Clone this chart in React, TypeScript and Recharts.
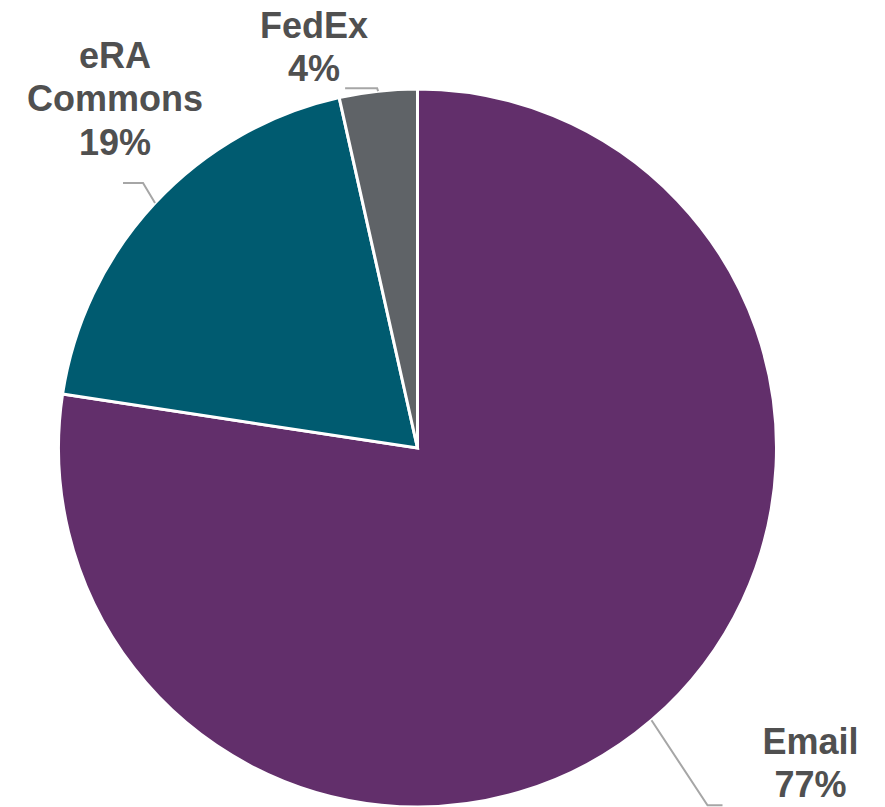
import React from "react";
import { PieChart, Pie, Cell } from "recharts";

const categories = ["Email", "eRA Commons", "FedEx"];
const values = [77.4, 19.1, 3.5];
const labelLines = [["Email"], ["eRA", "Commons"], ["FedEx"]];
const colors = ["#622F6B", "#005B70", "#5F6367"];

// label layout: elbow offset from slice edge, horizontal extension, text offset
const labelLayout = [
  { ex: 56, ey: 85, ext: 15, dx: 88, dy: -64 },
  { ex: -12, ey: -20, ext: -20, dx: -8, dy: -128 },
  { ex: -1, ey: -3, ext: -32, dx: -31, dy: -63 },
];

const data = categories.map((name, i) => ({ name, value: values[i] }));

const RAD = Math.PI / 180;

const renderLabel = (props: any) => {
  const { cx, cy, midAngle, outerRadius, index, percent } = props;
  const L = labelLayout[index];
  const cos = Math.cos(-midAngle * RAD);
  const sin = Math.sin(-midAngle * RAD);
  const x0 = cx + outerRadius * cos;
  const y0 = cy + outerRadius * sin;
  const x1 = x0 + L.ex;
  const y1 = y0 + L.ey;
  const x2 = x1 + L.ext;
  const y2 = y1;
  const tx = x2 + L.dx;
  const ty = y2 + L.dy;
  const lines = [...labelLines[index], `${Math.round(percent * 100)}%`];
  return (
    <g key={`lbl-${index}`}>
      <polyline
        points={`${x0},${y0} ${x1},${y1} ${x2},${y2}`}
        fill="none"
        stroke="#A6A6A6"
        strokeWidth={2}
      />
      {lines.map((t, k) => (
        <text
          key={k}
          x={tx}
          y={ty + k * 43.5}
          textAnchor="middle"
          dominantBaseline="central"
          fill="#505050"
          fontFamily="'Liberation Sans', Arial, sans-serif"
          fontWeight="bold"
          fontSize={36}
        >
          {t}
        </text>
      ))}
    </g>
  );
};

export default function App() {
  return (
    <div style={{ width: 885, height: 807, margin: "-8px 0 0 -8px" }}>
      <PieChart
        width={885}
        height={807}
        margin={{ top: 0, right: 0, bottom: 0, left: 0 }}
      >
        <Pie
          data={data}
          dataKey="value"
          nameKey="name"
          cx={417.5}
          cy={448}
          outerRadius={359}
          startAngle={90}
          endAngle={-270}
          stroke="#FFFFFF"
          strokeWidth={3}
          label={renderLabel}
          labelLine={false}
          isAnimationActive={false}
        >
          {data.map((d, i) => (
            <Cell key={d.name} fill={colors[i]} />
          ))}
        </Pie>
      </PieChart>
    </div>
  );
}
